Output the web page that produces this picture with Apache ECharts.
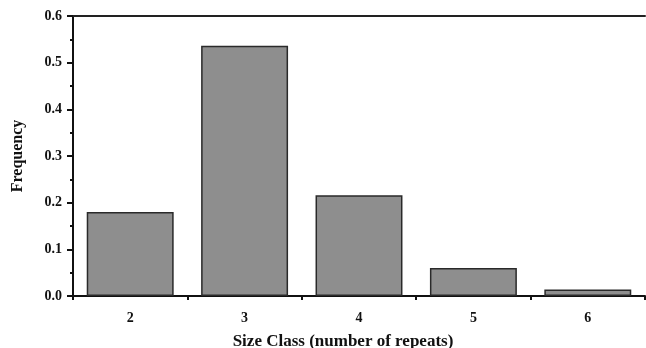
<!DOCTYPE html>
<html><head><meta charset="utf-8">
<script src="https://cdn.jsdelivr.net/npm/echarts@6/dist/echarts.min.js"></script>
<style>html,body{margin:0;padding:0;background:#fff}#c{width:646px;height:348px}</style>
</head><body><div id="c"></div>
<script>
var categories = ['2','3','4','5','6'];
var frequency = [0.18, 0.536, 0.216, 0.06, 0.014];
var yTicks = [0, 0.1, 0.2, 0.3, 0.4, 0.5, 0.6];
var xTitle = 'Size Class (number of repeats)';
var yTitle = 'Frequency';

var font = '"Liberation Serif", "Times New Roman", serif';
var chart = echarts.init(document.getElementById('c'));
chart.setOption({
  animation: false,
  grid: {left: 73, top: 16, right: 1, bottom: 52, containLabel: false, outerBoundsMode: 'none'},
  xAxis: [{
    type: 'category', data: categories,
    name: xTitle, nameLocation: 'middle', nameGap: 37,
    nameTextStyle: {fontFamily: font, fontWeight: 'bold', fontSize: 17, color: '#111', padding: [0, 32, 0, 0]},
    axisLine: {lineStyle: {color: '#111', width: 2}},
    axisTick: {show: true, length: 4, inside: false, lineStyle: {color: '#111', width: 2}},
    axisLabel: {fontFamily: font, fontWeight: 'bold', fontSize: 14, color: '#111', margin: 15}
  }, {
    type: 'category', data: categories, position: 'top',
    axisLine: {show: true, lineStyle: {color: '#222', width: 2}},
    axisTick: {show: false}, axisLabel: {show: false}
  }],
  yAxis: {
    type: 'value', min: 0, max: 0.6, interval: 0.1,
    name: yTitle, nameLocation: 'middle', nameGap: 47,
    nameTextStyle: {fontFamily: font, fontWeight: 'bold', fontSize: 16, color: '#111'},
    axisLine: {show: true, lineStyle: {color: '#111', width: 2}},
    axisTick: {show: true, length: 6, lineStyle: {color: '#111', width: 2}},
    minorTick: {show: true, splitNumber: 2, length: 3, lineStyle: {color: '#111', width: 2}},
    splitLine: {show: false},
    axisLabel: {fontFamily: font, fontWeight: 'bold', fontSize: 14, color: '#111', margin: 11,
      formatter: function (v) { return v.toFixed(1); }}
  },
  series: [{
    type: 'bar', data: frequency, barWidth: '76%',
    itemStyle: {color: '#8e8e8e', borderColor: '#2a2a2a', borderWidth: 1.5}
  }]
});
</script></body></html>
